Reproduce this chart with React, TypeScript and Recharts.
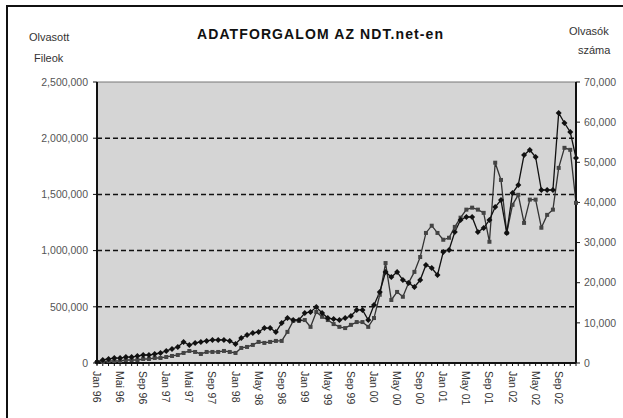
import React from "react";
import { LineChart, Line, XAxis, YAxis, ReferenceLine, ReferenceArea } from "recharts";

const monthNames = ["Jan", "Feb", "Mar", "Apr", "May", "Jun", "Jul", "Aug", "Sep", "Oct", "Nov", "Dec"];
const years = ["96", "97", "98", "99", "00", "01", "02"];

const tickLabels = [
  "Jan 96", "Mai 96", "Sep 96", "Jan 97", "Mai 97", "Sep 97", "Jan 98", "May 98", "Sep 98",
  "Jan 99", "May 99", "Sep 99", "Jan 00", "May 00", "Sep 00", "Jan 01", "May 01", "Sep 01",
  "Jan 02", "May 02", "Sep 02",
];

// Olvasott fileok (left axis)
const files = [
  9000, 27000, 36000, 44000, 44000, 53000, 53000, 62000, 71000, 71000, 80000, 89000,
  107000, 125000, 142000, 187000, 160000, 178000, 187000, 196000, 205000, 205000, 205000, 196000,
  169000, 222000, 249000, 267000, 276000, 311000, 311000, 276000, 356000, 400000, 383000, 383000,
  445000, 454000, 498000, 445000, 400000, 391000, 383000, 400000, 418000, 472000, 472000, 383000,
  516000, 632000, 810000, 765000, 810000, 738000, 712000, 676000, 738000, 872000, 845000, 783000,
  988000, 1005000, 1165000, 1272000, 1299000, 1299000, 1165000, 1201000, 1272000, 1388000, 1450000, 1157000,
  1512000, 1584000, 1851000, 1895000, 1833000, 1539000, 1539000, 1539000, 2224000, 2135000, 2055000, 1824000,
];

// Olvasók száma (right axis)
const readers = [
  250, 250, 500, 500, 500, 750, 750, 750, 1000, 1000, 1250, 1250,
  1500, 1750, 2000, 2500, 3000, 2750, 2250, 2750, 2750, 2750, 3000, 2750,
  2500, 3750, 4000, 4500, 5250, 5000, 5250, 5500, 5500, 7750, 10500, 10500,
  10700, 9000, 12700, 11500, 10700, 9700, 9000, 8700, 9500, 10200, 10200, 9000,
  11200, 17000, 24900, 15700, 17700, 16500, 20000, 22700, 26400, 32400, 34200, 32400,
  30700, 31200, 33900, 36200, 38200, 38700, 38200, 37400, 30200, 49900, 45600, 32400,
  39400, 41900, 34900, 40700, 40700, 33700, 36900, 38200, 48600, 53600, 53100, 39900,
];

const leftTicks = [0, 500000, 1000000, 1500000, 2000000, 2500000];
const rightTicks = [0, 10000, 20000, 30000, 40000, 50000, 60000, 70000];
const gridValues = [500000, 1000000, 1500000, 2000000];

const months = years.flatMap((y) => monthNames.map((m) => `${m} ${y}`));
const data = months.map((month, i) => ({ month, files: files[i], readers: readers[i] }));

const fmt = (v: number) => v.toLocaleString("en-US");
const font = "'Liberation Sans', Arial, sans-serif";

const MonthTick = (props: any) => {
  const { x, y, payload } = props;
  const idx = payload.index;
  if (idx % 4 !== 0) return null;
  return (
    <text
      transform={`translate(${x}, ${y + 3}) rotate(90)`}
      textAnchor="start"
      dominantBaseline="central"
      fontSize={10.5}
      fontFamily={font}
      fill="#333"
    >
      {tickLabels[idx / 4]}
    </text>
  );
};

const DiamondDot = (props: any) => {
  const { cx, cy, index } = props;
  if (cx == null || cy == null) return null;
  const r = 3;
  return (
    <path
      key={`d-${index}`}
      d={`M${cx},${cy - r}L${cx + r},${cy}L${cx},${cy + r}L${cx - r},${cy}Z`}
      fill="#111"
    />
  );
};

const SquareDot = (props: any) => {
  const { cx, cy, index } = props;
  if (cx == null || cy == null) return null;
  return <rect key={`s-${index}`} x={cx - 2} y={cy - 2} width={4} height={4} fill="#444" />;
};

const txt = (left: number, top: number, s: string, extra: React.CSSProperties = {}) => (
  <div style={{ position: "absolute", left, top, fontFamily: font, fontSize: 11, color: "#333", whiteSpace: "nowrap", ...extra }}>
    {s}
  </div>
);

export default function App() {
  return (
    <div style={{ position: "absolute", left: 0, top: 0, width: 623, height: 418, background: "#fff", overflow: "hidden" }}>
      <div style={{ position: "absolute", left: 6, top: 5, width: 2, height: 413, background: "#111" }} />
      <div style={{ position: "absolute", left: 6, top: 5, width: 617, height: 2, background: "#111" }} />
      {txt(197, 26, "ADATFORGALOM AZ NDT.net-en", { fontSize: 14, fontWeight: "bold", color: "#111", letterSpacing: 1.1 })}
      {txt(29, 31, "Olvasott")}
      {txt(34, 52, "Fileok")}
      {txt(569, 25, "Olvasók")}
      {txt(578, 44, "száma")}
      <div style={{ position: "absolute", left: 0, top: 0 }}>
        <LineChart width={623} height={418} data={data} margin={{ top: 82, right: 0, bottom: 10, left: 0 }}>
          <ReferenceArea yAxisId="left" y1={0} y2={2500000} fill="#d5d5d5" fillOpacity={1} stroke="#777" strokeWidth={1} />
          <XAxis
            dataKey="month"
            interval={0}
            height={45}
            tick={<MonthTick />}
            tickSize={3}
            tickLine={{ stroke: "#111" }}
            axisLine={{ stroke: "#111", strokeWidth: 2 }}
          />
          <YAxis
            yAxisId="left"
            domain={[0, 2500000]}
            ticks={leftTicks}
            tickFormatter={fmt}
            width={97}
            tickSize={4}
            tickMargin={5}
            tickLine={{ stroke: "#111" }}
            axisLine={{ stroke: "#111", strokeWidth: 2 }}
            tick={{ fill: "#555", fontSize: 10.5, fontFamily: font }}
          />
          <YAxis
            yAxisId="right"
            orientation="right"
            domain={[0, 70000]}
            ticks={rightTicks}
            tickFormatter={fmt}
            width={47}
            tickSize={4}
            tickMargin={4}
            tickLine={{ stroke: "#111" }}
            axisLine={{ stroke: "#111", strokeWidth: 2 }}
            tick={{ fill: "#555", fontSize: 10.5, fontFamily: font }}
          />
          {gridValues.map((v) => (
            <ReferenceLine key={v} yAxisId="left" y={v} stroke="#111" strokeWidth={1.5} strokeDasharray="5 3" />
          ))}
          <Line
            yAxisId="right"
            dataKey="readers"
            stroke="#333"
            strokeWidth={1.3}
            dot={SquareDot}
            activeDot={false}
            isAnimationActive={false}
          />
          <Line
            yAxisId="left"
            dataKey="files"
            stroke="#111"
            strokeWidth={1.3}
            dot={DiamondDot}
            activeDot={false}
            isAnimationActive={false}
          />
        </LineChart>
      </div>
    </div>
  );
}
